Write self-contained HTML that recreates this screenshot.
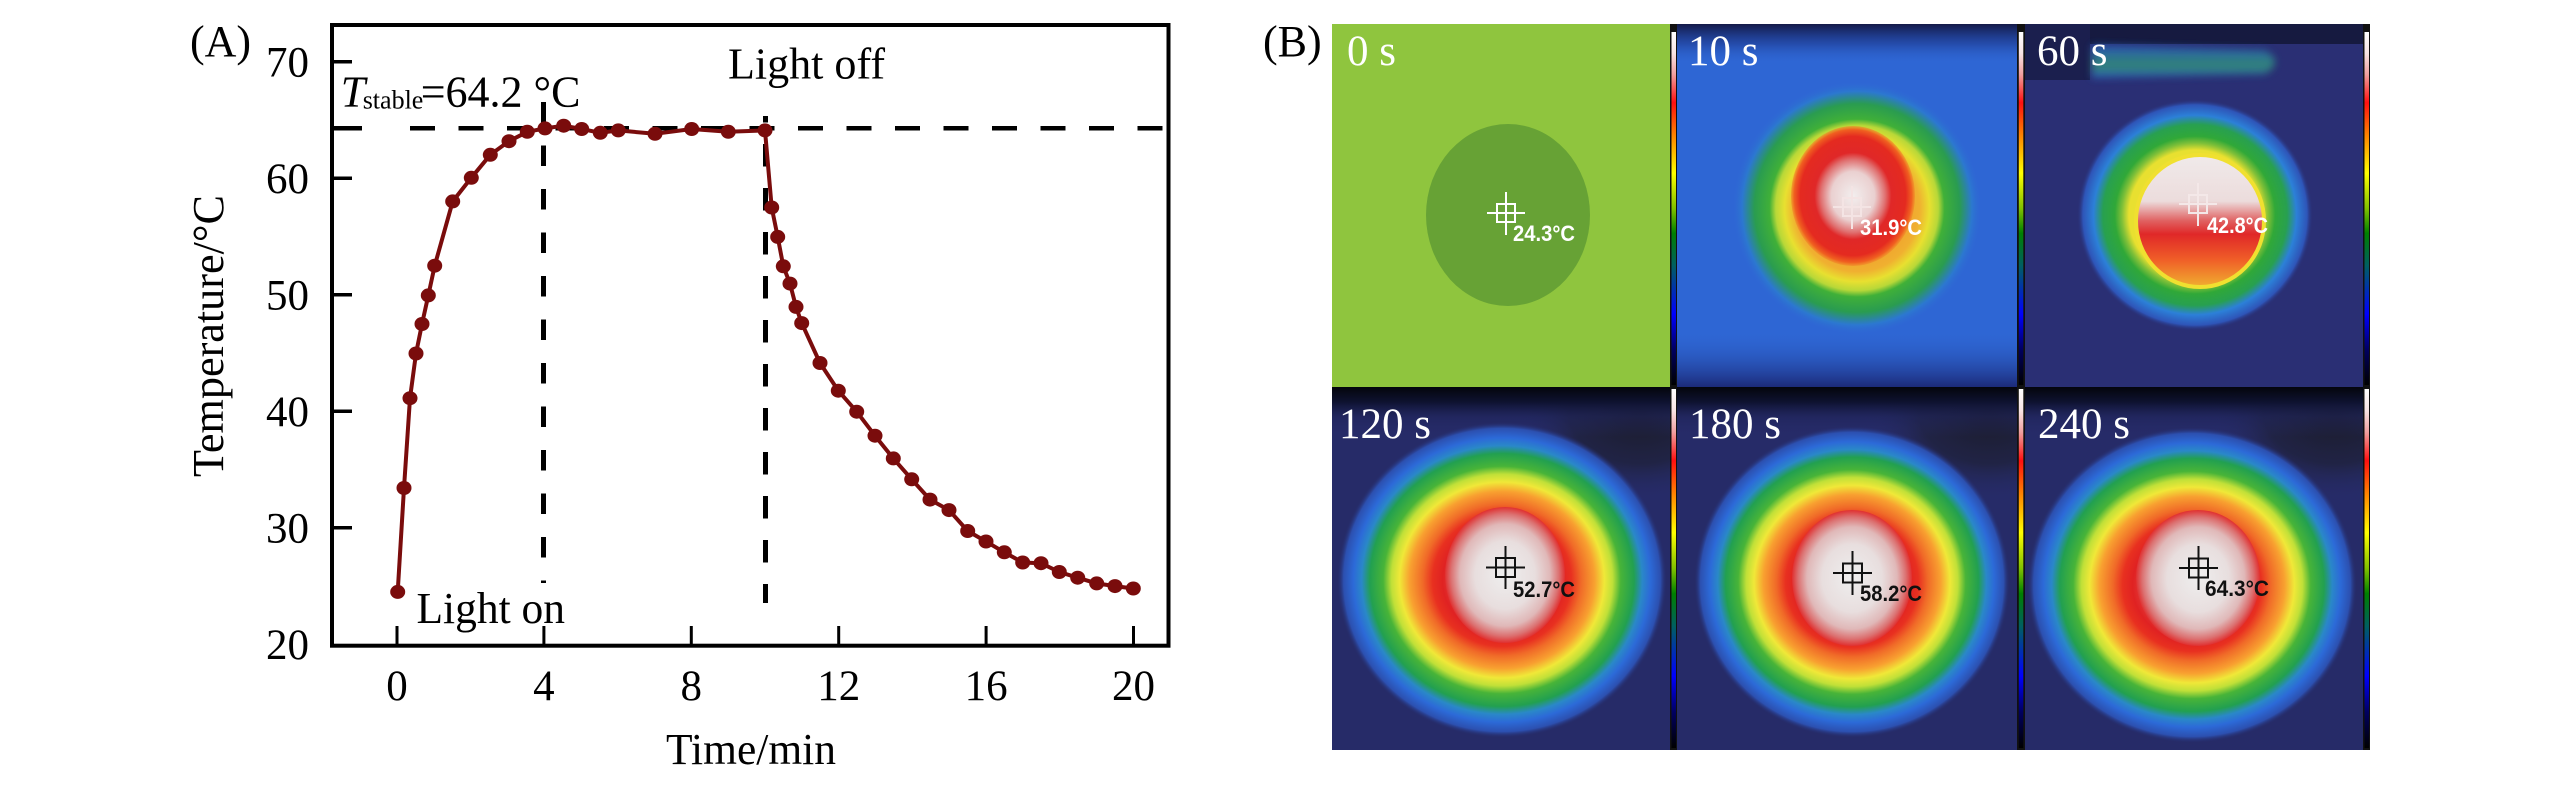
<!DOCTYPE html>
<html><head><meta charset="utf-8">
<style>
html,body{margin:0;padding:0;background:#fff;}
svg{display:block;}
</style></head><body>
<svg width="2567" height="787" viewBox="0 0 2567 787" xmlns="http://www.w3.org/2000/svg">
<defs>
  <linearGradient id="cbar" x1="0" y1="0" x2="0" y2="1">
    <stop offset="0" stop-color="#ffffff"/>
    <stop offset="0.06" stop-color="#f8e4e4"/>
    <stop offset="0.12" stop-color="#f0a0a0"/>
    <stop offset="0.2" stop-color="#ff1010"/>
    <stop offset="0.29" stop-color="#ff8000"/>
    <stop offset="0.4" stop-color="#ffff00"/>
    <stop offset="0.5" stop-color="#80c000"/>
    <stop offset="0.57" stop-color="#008000"/>
    <stop offset="0.66" stop-color="#006060"/>
    <stop offset="0.8" stop-color="#0000ff"/>
    <stop offset="0.9" stop-color="#000060"/>
    <stop offset="1" stop-color="#000000"/>
  </linearGradient>
  <clipPath id="c1"><rect x="1332" y="24" width="338" height="363"/></clipPath>
  <clipPath id="c2"><rect x="1677" y="24" width="340" height="363"/></clipPath>
  <clipPath id="c3"><rect x="2025" y="24" width="338" height="363"/></clipPath>
  <clipPath id="c4"><rect x="1332" y="387" width="338" height="363"/></clipPath>
  <clipPath id="c5"><rect x="1677" y="387" width="340" height="363"/></clipPath>
  <clipPath id="c6"><rect x="2025" y="387" width="338" height="363"/></clipPath>

  <linearGradient id="topband1" x1="0" y1="0" x2="0" y2="1">
    <stop offset="0" stop-color="#141a48"/>
    <stop offset="0.5" stop-color="#1e3a90" stop-opacity="0.6"/>
    <stop offset="1" stop-color="#2e66d4" stop-opacity="0"/>
  </linearGradient>
  <linearGradient id="botband1" x1="0" y1="0" x2="0" y2="1">
    <stop offset="0" stop-color="#2e66d4" stop-opacity="0"/>
    <stop offset="1" stop-color="#1c2a78"/>
  </linearGradient>
  <radialGradient id="halo10">
    <stop offset="0" stop-color="#f07828"/>
    <stop offset="0.5" stop-color="#f0b030"/>
    <stop offset="0.58" stop-color="#e8e030"/>
    <stop offset="0.65" stop-color="#b8d838"/>
    <stop offset="0.7" stop-color="#40b038"/>
    <stop offset="0.82" stop-color="#2a9c50"/>
    <stop offset="0.92" stop-color="#2c78d0"/>
    <stop offset="1" stop-color="#2e66d4" stop-opacity="0"/>
  </radialGradient>
  <radialGradient id="blob10">
    <stop offset="0" stop-color="#f2eeee"/>
    <stop offset="0.35" stop-color="#ead0d0"/>
    <stop offset="0.52" stop-color="#e07070"/>
    <stop offset="0.62" stop-color="#e02828"/>
    <stop offset="0.85" stop-color="#e42a20"/>
    <stop offset="0.95" stop-color="#f06020"/>
    <stop offset="1" stop-color="#f08828" stop-opacity="0.6"/>
  </radialGradient>
  <radialGradient id="halo60">
    <stop offset="0" stop-color="#f0e030"/>
    <stop offset="0.56" stop-color="#e8e030"/>
    <stop offset="0.62" stop-color="#80c038"/>
    <stop offset="0.68" stop-color="#30a838"/>
    <stop offset="0.78" stop-color="#28a050"/>
    <stop offset="0.86" stop-color="#2c80d8"/>
    <stop offset="0.95" stop-color="#2e55b8"/>
    <stop offset="1" stop-color="#2a2f74" stop-opacity="0"/>
  </radialGradient>
  <linearGradient id="blob60" x1="0" y1="0" x2="0" y2="1">
    <stop offset="0" stop-color="#f0eaea"/>
    <stop offset="0.35" stop-color="#ecdcdc"/>
    <stop offset="0.5" stop-color="#e06060"/>
    <stop offset="0.6" stop-color="#e02828"/>
    <stop offset="0.8" stop-color="#f06028"/>
    <stop offset="1" stop-color="#f0b030"/>
  </linearGradient>
  <linearGradient id="stripe60" x1="0" y1="0" x2="0" y2="1">
    <stop offset="0" stop-color="#2a58c0"/>
    <stop offset="0.45" stop-color="#2f8a88"/>
    <stop offset="0.7" stop-color="#33907a"/>
    <stop offset="1" stop-color="#2a60c8"/>
  </linearGradient>
  <filter id="soft" x="-20%" y="-50%" width="140%" height="200%">
    <feGaussianBlur stdDeviation="4"/>
  </filter>
  <radialGradient id="halo2">
    <stop offset="0" stop-color="#f0a8a8"/>
    <stop offset="0.36" stop-color="#e02222"/>
    <stop offset="0.42" stop-color="#e83020"/>
    <stop offset="0.48" stop-color="#f06a28"/>
    <stop offset="0.56" stop-color="#f8a030"/>
    <stop offset="0.62" stop-color="#f0e838"/>
    <stop offset="0.67" stop-color="#c0e038"/>
    <stop offset="0.72" stop-color="#48b438"/>
    <stop offset="0.8" stop-color="#22a050"/>
    <stop offset="0.85" stop-color="#2a88c8"/>
    <stop offset="0.9" stop-color="#2c6ad8"/>
    <stop offset="0.96" stop-color="#2c50b0"/>
    <stop offset="1" stop-color="#262b68" stop-opacity="0"/>
  </radialGradient>
  <radialGradient id="core2">
    <stop offset="0" stop-color="#eeeeee"/>
    <stop offset="0.5" stop-color="#e8dede"/>
    <stop offset="0.75" stop-color="#e0b8b8"/>
    <stop offset="0.9" stop-color="#dc7070"/>
    <stop offset="1" stop-color="#e03030"/>
  </radialGradient>
  <linearGradient id="topband2" x1="0" y1="0" x2="0" y2="1">
    <stop offset="0" stop-color="#04050c"/>
    <stop offset="0.3" stop-color="#0e1230"/>
    <stop offset="0.6" stop-color="#1e2358" stop-opacity="0.6"/>
    <stop offset="1" stop-color="#262b68" stop-opacity="0"/>
  </linearGradient>
  <radialGradient id="darkcorner">
    <stop offset="0" stop-color="#1a1a26"/>
    <stop offset="0.6" stop-color="#1e2036" stop-opacity="0.7"/>
    <stop offset="1" stop-color="#262b68" stop-opacity="0"/>
  </radialGradient>
</defs>

<rect width="2567" height="787" fill="#fff"/>

<!-- ================= Panel A ================= -->
<g font-family="'Liberation Serif', serif" fill="#000">
  <text x="190" y="56" font-size="44">(A)</text>

  <rect x="332" y="25" width="836.5" height="620.7" fill="none" stroke="#000" stroke-width="4"/>

  <g stroke="#000" stroke-width="3.5">
    <line x1="332" y1="61.7" x2="352" y2="61.7"/>
    <line x1="332" y1="178.2" x2="352" y2="178.2"/>
    <line x1="332" y1="294.7" x2="352" y2="294.7"/>
    <line x1="332" y1="411.2" x2="352" y2="411.2"/>
    <line x1="332" y1="527.7" x2="352" y2="527.7"/>
  </g>
  <g font-size="43" text-anchor="end">
    <text x="309" y="76.5">70</text>
    <text x="309" y="193">60</text>
    <text x="309" y="309.5">50</text>
    <text x="309" y="426">40</text>
    <text x="309" y="542.5">30</text>
    <text x="309" y="659">20</text>
  </g>

  <g stroke="#000" stroke-width="3">
    <line x1="397" y1="644" x2="397" y2="626"/>
    <line x1="543.9" y1="644" x2="543.9" y2="626"/>
    <line x1="691.3" y1="644" x2="691.3" y2="626"/>
    <line x1="838.7" y1="644" x2="838.7" y2="626"/>
    <line x1="986.1" y1="644" x2="986.1" y2="626"/>
    <line x1="1133.5" y1="644" x2="1133.5" y2="626"/>
  </g>
  <g font-size="43" text-anchor="middle">
    <text x="397" y="700">0</text>
    <text x="543.9" y="700">4</text>
    <text x="691.3" y="700">8</text>
    <text x="838.7" y="700">12</text>
    <text x="986.1" y="700">16</text>
    <text x="1133.5" y="700">20</text>
  </g>

  <text x="751" y="764" font-size="44" text-anchor="middle" textLength="170" lengthAdjust="spacingAndGlyphs">Time/min</text>
  <text transform="translate(223,336) rotate(-90)" font-size="44" text-anchor="middle" textLength="282" lengthAdjust="spacingAndGlyphs">Temperature/°C</text>

  <text y="106.7" font-size="44"><tspan x="340.7" font-style="italic">T</tspan><tspan x="362.7" y="108.5" font-size="26">stable</tspan><tspan x="420.7" y="106.7">=64.2 °C</tspan></text>
  <text x="728" y="78.3" font-size="44" textLength="157" lengthAdjust="spacingAndGlyphs">Light off</text>
  <text x="416.5" y="623" font-size="44" textLength="148.5" lengthAdjust="spacingAndGlyphs">Light on</text>

  <g stroke="#000" fill="none">
    <line x1="334" y1="128.3" x2="362" y2="128.3" stroke-width="4.5"/>
    <line x1="410" y1="128.3" x2="1166" y2="128.3" stroke-width="4.5" stroke-dasharray="25 23.5"/>
    <line x1="543.5" y1="102" x2="543.5" y2="583" stroke-width="5" stroke-dasharray="20.5 23"/>
    <line x1="765.5" y1="116" x2="765.5" y2="603" stroke-width="5" stroke-dasharray="22.5 21.5" stroke-dashoffset="16"/>
  </g>

  <polyline fill="none" stroke="#7a0c0c" stroke-width="4" stroke-linejoin="round"
    points="397.7,591.9 404,488 410,398.2 416,353.5 422,324 428.3,295.4 434.7,265.7 452.7,201.4 471.3,177.8 490.3,154.8 509,141.2 527.3,131.8 545,128.4 563.7,125.7 581.7,129 600.3,132.8 618.3,130.4 655,133.8 691.7,129 728.3,131.8 765,130.4 771.7,207.5 777.7,236.9 783.3,266.3 790,283.6 796,306.9 801.7,323.1 820,363 838.3,390.7 856.7,411.7 875,435.7 893.3,458.4 911.7,479.3 930,499.6 949,510.1 967.7,531 986,541.5 1004.3,552.3 1022.7,562.5 1041,563.2 1059.3,572 1077.7,577.7 1096.7,583.4 1115,586.1 1133.3,588.5"/>
  <g fill="#7a0c0c">
    <ellipse cx="397.7" cy="591.9" rx="7.5" ry="7"/>
    <ellipse cx="404" cy="488" rx="7.5" ry="7"/>
    <ellipse cx="410" cy="398.2" rx="7.5" ry="7"/>
    <ellipse cx="416" cy="353.5" rx="7.5" ry="7"/>
    <ellipse cx="422" cy="324" rx="7.5" ry="7"/>
    <ellipse cx="428.3" cy="295.4" rx="7.5" ry="7"/>
    <ellipse cx="434.7" cy="265.7" rx="7.5" ry="7"/>
    <ellipse cx="452.7" cy="201.4" rx="7.5" ry="7"/>
    <ellipse cx="471.3" cy="177.8" rx="7.5" ry="7"/>
    <ellipse cx="490.3" cy="154.8" rx="7.5" ry="7"/>
    <ellipse cx="509" cy="141.2" rx="7.5" ry="7"/>
    <ellipse cx="527.3" cy="131.8" rx="7.5" ry="7"/>
    <ellipse cx="545" cy="128.4" rx="7.5" ry="7"/>
    <ellipse cx="563.7" cy="125.7" rx="7.5" ry="7"/>
    <ellipse cx="581.7" cy="129" rx="7.5" ry="7"/>
    <ellipse cx="600.3" cy="132.8" rx="7.5" ry="7"/>
    <ellipse cx="618.3" cy="130.4" rx="7.5" ry="7"/>
    <ellipse cx="655" cy="133.8" rx="7.5" ry="7"/>
    <ellipse cx="691.7" cy="129" rx="7.5" ry="7"/>
    <ellipse cx="728.3" cy="131.8" rx="7.5" ry="7"/>
    <ellipse cx="765" cy="130.4" rx="7.5" ry="7"/>
    <ellipse cx="771.7" cy="207.5" rx="7.5" ry="7"/>
    <ellipse cx="777.7" cy="236.9" rx="7.5" ry="7"/>
    <ellipse cx="783.3" cy="266.3" rx="7.5" ry="7"/>
    <ellipse cx="790" cy="283.6" rx="7.5" ry="7"/>
    <ellipse cx="796" cy="306.9" rx="7.5" ry="7"/>
    <ellipse cx="801.7" cy="323.1" rx="7.5" ry="7"/>
    <ellipse cx="820" cy="363" rx="7.5" ry="7"/>
    <ellipse cx="838.3" cy="390.7" rx="7.5" ry="7"/>
    <ellipse cx="856.7" cy="411.7" rx="7.5" ry="7"/>
    <ellipse cx="875" cy="435.7" rx="7.5" ry="7"/>
    <ellipse cx="893.3" cy="458.4" rx="7.5" ry="7"/>
    <ellipse cx="911.7" cy="479.3" rx="7.5" ry="7"/>
    <ellipse cx="930" cy="499.6" rx="7.5" ry="7"/>
    <ellipse cx="949" cy="510.1" rx="7.5" ry="7"/>
    <ellipse cx="967.7" cy="531" rx="7.5" ry="7"/>
    <ellipse cx="986" cy="541.5" rx="7.5" ry="7"/>
    <ellipse cx="1004.3" cy="552.3" rx="7.5" ry="7"/>
    <ellipse cx="1022.7" cy="562.5" rx="7.5" ry="7"/>
    <ellipse cx="1041" cy="563.2" rx="7.5" ry="7"/>
    <ellipse cx="1059.3" cy="572" rx="7.5" ry="7"/>
    <ellipse cx="1077.7" cy="577.7" rx="7.5" ry="7"/>
    <ellipse cx="1096.7" cy="583.4" rx="7.5" ry="7"/>
    <ellipse cx="1115" cy="586.1" rx="7.5" ry="7"/>
    <ellipse cx="1133.3" cy="588.5" rx="7.5" ry="7"/>
  </g>
</g>

<!-- ================= Panel B ================= -->
<text x="1263" y="56" font-family="'Liberation Serif', serif" font-size="44" fill="#000">(B)</text>

<!-- 0 s -->
<g clip-path="url(#c1)">
  <rect x="1332" y="24" width="338" height="363" fill="#8fc53e"/>
  <ellipse cx="1508" cy="215" rx="82" ry="91" fill="#67a235"/>
</g>
<!-- 10 s -->
<g clip-path="url(#c2)">
  <rect x="1677" y="24" width="340" height="363" fill="#2e66d4"/>
  <rect x="1677" y="24" width="340" height="40" fill="url(#topband1)"/>
  <rect x="1677" y="330" width="340" height="57" fill="url(#botband1)"/>
  <ellipse cx="1857" cy="208" rx="125" ry="127" fill="url(#halo10)"/>
  <ellipse cx="1853" cy="196" rx="62" ry="70" fill="url(#blob10)"/>
</g>
<!-- 60 s -->
<g clip-path="url(#c3)">
  <rect x="2025" y="24" width="338" height="363" fill="#2a2f74"/>
  <rect x="2025" y="24" width="338" height="20" fill="#161a40"/>
  <rect x="2025" y="24" width="65" height="56" fill="#1b1f4e"/>
  <path d="M2092,45 L2265,50 Q2285,62 2265,74 L2092,78 Z" fill="url(#stripe60)" opacity="0.85" filter="url(#soft)"/>
  <ellipse cx="2195" cy="215" rx="118" ry="116" fill="url(#halo60)"/>
  <ellipse cx="2200" cy="221" rx="64" ry="66" fill="url(#blob60)" stroke="#f0e030" stroke-width="4"/>
</g>
<!-- 120 s -->
<g clip-path="url(#c4)">
  <rect x="1332" y="387" width="338" height="363" fill="#262b68"/>
  <ellipse cx="1640" cy="410" rx="120" ry="90" fill="url(#darkcorner)"/>
  <rect x="1332" y="387" width="338" height="50" fill="url(#topband2)"/>
  <ellipse cx="1502" cy="580" rx="165" ry="158" fill="url(#halo2)"/>
  <ellipse cx="1505" cy="575" rx="60" ry="68" fill="url(#core2)"/>
</g>
<!-- 180 s -->
<g clip-path="url(#c5)">
  <rect x="1677" y="387" width="340" height="363" fill="#262b68"/>
  <ellipse cx="1990" cy="410" rx="120" ry="90" fill="url(#darkcorner)"/>
  <rect x="1677" y="387" width="340" height="50" fill="url(#topband2)"/>
  <ellipse cx="1852" cy="582" rx="158" ry="156" fill="url(#halo2)"/>
  <ellipse cx="1852" cy="578" rx="60" ry="68" fill="url(#core2)"/>
</g>
<!-- 240 s -->
<g clip-path="url(#c6)">
  <rect x="2025" y="387" width="338" height="363" fill="#262b68"/>
  <ellipse cx="2335" cy="410" rx="120" ry="90" fill="url(#darkcorner)"/>
  <rect x="2025" y="387" width="338" height="50" fill="url(#topband2)"/>
  <ellipse cx="2192" cy="585" rx="165" ry="158" fill="url(#halo2)"/>
  <ellipse cx="2198" cy="578" rx="62" ry="68" fill="url(#core2)"/>
</g>

<!-- colorbars -->
<g>
  <rect x="1670" y="24" width="7" height="363" fill="#111"/>
  <rect x="1671.5" y="32" width="4.5" height="353" fill="url(#cbar)"/>
  <rect x="2017" y="24" width="8" height="363" fill="#111"/>
  <rect x="2018.8" y="32" width="4.5" height="353" fill="url(#cbar)"/>
  <rect x="2363" y="24" width="7" height="363" fill="#111"/>
  <rect x="2364.5" y="32" width="4.5" height="353" fill="url(#cbar)"/>
  <rect x="1670" y="387" width="7" height="363" fill="#111"/>
  <rect x="1671.5" y="389" width="4.5" height="359" fill="url(#cbar)"/>
  <rect x="2017" y="387" width="8" height="363" fill="#111"/>
  <rect x="2018.8" y="389" width="4.5" height="359" fill="url(#cbar)"/>
  <rect x="2363" y="387" width="7" height="363" fill="#111"/>
  <rect x="2364.5" y="389" width="4.5" height="359" fill="url(#cbar)"/>
</g>

<!-- crosshairs -->
<g fill="none" stroke-width="2">
  <g stroke="#ffffff">
    <rect x="1497" y="204" width="18" height="18"/>
    <line x1="1487" y1="213" x2="1525" y2="213"/><line x1="1506" y1="192" x2="1506" y2="235"/>
  </g>
  <g stroke="#f4e4e4">
    <rect x="1843" y="198" width="18" height="18"/>
    <line x1="1833" y1="207" x2="1871" y2="207"/><line x1="1852" y1="186" x2="1852" y2="229"/>
  </g>
  <g stroke="#f4e8e8">
    <rect x="2189" y="195" width="18" height="18"/>
    <line x1="2179" y1="204" x2="2217" y2="204"/><line x1="2198" y1="183" x2="2198" y2="226"/>
  </g>
  <g stroke="#111">
    <rect x="1496" y="558" width="19" height="19"/>
    <line x1="1486" y1="567.5" x2="1525" y2="567.5"/><line x1="1505.5" y1="546" x2="1505.5" y2="589"/>
    <rect x="1843" y="563.5" width="19" height="19"/>
    <line x1="1833" y1="573" x2="1872" y2="573"/><line x1="1852.5" y1="551" x2="1852.5" y2="595"/>
    <rect x="2189" y="558.5" width="19" height="19"/>
    <line x1="2179" y1="568" x2="2218" y2="568"/><line x1="2198.5" y1="546" x2="2198.5" y2="590"/>
  </g>
</g>

<!-- temperature readouts -->
<g font-family="'Liberation Sans', sans-serif" font-weight="bold" font-size="22">
  <text x="1513" y="241" fill="#fff" textLength="62" lengthAdjust="spacingAndGlyphs">24.3°C</text>
  <text x="1860" y="235" fill="#fff" textLength="62" lengthAdjust="spacingAndGlyphs">31.9°C</text>
  <text x="2207" y="233" fill="#fff" textLength="61" lengthAdjust="spacingAndGlyphs">42.8°C</text>
  <text x="1513" y="597" fill="#111" textLength="62" lengthAdjust="spacingAndGlyphs">52.7°C</text>
  <text x="1860" y="601" fill="#111" textLength="62" lengthAdjust="spacingAndGlyphs">58.2°C</text>
  <text x="2205" y="596" fill="#111" textLength="64" lengthAdjust="spacingAndGlyphs">64.3°C</text>
</g>

<!-- time labels -->
<g font-family="'Liberation Serif', serif" font-size="43" fill="#fff">
  <text x="1347" y="65">0 s</text>
  <text x="1688" y="65">10 s</text>
  <text x="2037" y="65">60 s</text>
  <text x="1339" y="438">120 s</text>
  <text x="1689" y="438">180 s</text>
  <text x="2038" y="438">240 s</text>
</g>
</svg>
</body></html>
